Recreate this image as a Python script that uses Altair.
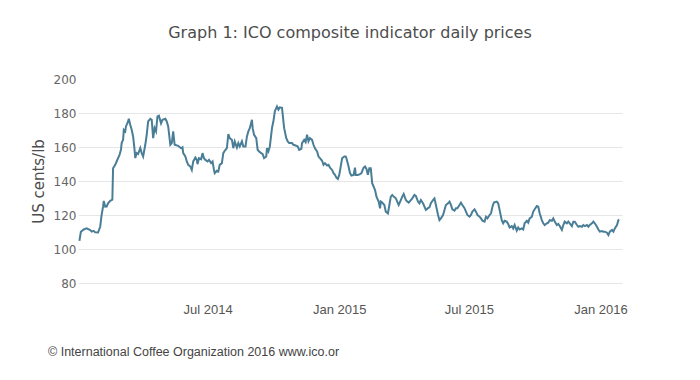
import altair as alt
import pandas as pd

# ---- data ----
series_start = "2014-01-01"  # day offsets below count from this date

day_offsets = [
    2, 4, 8, 12, 17, 19, 22, 24, 28, 31, 33, 35, 36, 38, 40, 42, 45, 48, 49, 52,
    55, 58, 60, 61, 63, 64, 66, 67, 70, 71, 73, 75, 77, 79, 80, 82, 84, 87, 89, 91,
    94, 96, 98, 101, 103, 105, 107, 109, 111, 113, 116, 118, 122, 124, 126, 129, 131, 133, 135,
    140, 144, 146, 147, 150, 152, 154, 157, 159, 161, 164, 166, 167, 169, 172, 174, 176, 178, 181, 183,
    186, 188, 190, 191, 194, 196, 198, 201, 203, 205, 208, 210, 212, 215, 217, 219, 222, 224, 226, 229,
    231, 234, 236, 238, 240, 243, 244, 246, 249, 251, 253, 256, 258, 260, 263, 264, 266, 268, 271, 273,
    275, 278, 280, 282, 285, 286, 288, 291, 293, 295, 299, 301, 304, 307, 309, 312, 313, 316, 318, 320,
    322, 324, 327, 329, 331, 334, 336, 338, 341, 343, 345, 348, 350, 352, 355, 357, 359, 361, 363, 365,
    367, 369, 372, 374, 375, 378, 380, 382, 385, 387, 388, 391, 394, 396, 399, 401, 403, 405, 407, 409, 411,
    415, 417, 420, 422, 423, 425, 428, 430, 433, 435, 437, 439, 441, 444, 446, 448, 451, 453, 455, 458,
    460, 462, 465, 467, 470, 472, 475, 477, 479, 482, 484, 486, 489, 491, 493, 496, 498, 500, 503, 505,
    507, 510, 512, 514, 517, 519, 521, 523, 526, 528, 530, 533, 535, 537, 540, 542, 544, 547, 549, 551,
    554, 556, 558, 561, 563, 565, 568, 570, 572, 575, 577, 579, 581,
    585, 587, 589, 592, 594, 596, 599, 601, 603, 606, 608, 610, 613, 615, 617, 620, 622, 624, 627, 629,
    631, 634, 636, 638, 641, 643, 645, 648, 650, 652, 655, 657, 659, 662, 664, 666, 669, 671, 673, 676,
    678, 680, 683, 685, 687, 690, 692, 694, 697, 699, 701, 704, 706, 708, 711, 713, 715, 718, 720, 722,
    725, 727, 729, 732, 734, 736, 739, 741, 743, 746, 748, 750, 753, 755, 756,
]

prices = [
    104.8, 110.1, 111.5, 112.1, 111.2, 110.2, 110.7, 109.8, 109.7, 113.1, 120.0, 124.9, 128.3, 124.9, 125.0, 126.9, 128.3, 129.0, 147.5, 149.5,
    152.5, 155.4, 158.4, 162.3, 164.3, 170.1, 169.2, 172.1, 175.0, 176.6, 173.1, 170.1, 166.2, 158.4, 153.5, 156.4, 155.9, 159.4, 156.4, 154.4,
    161.3, 167.2, 175.0, 176.6, 176.0, 165.2, 171.1, 169.2, 178.0, 178.4, 173.9, 176.0, 176.6, 175.0, 172.1, 161.3, 162.3, 169.2, 161.3,
    160.7, 159.3, 159.9, 156.4, 154.4, 151.5, 149.5, 148.5, 146.5, 151.5, 153.8, 152.4, 149.9, 153.4, 152.8, 156.4, 153.4, 152.4, 151.5, 152.4,
    150.5, 151.5, 146.5, 144.6, 146.0, 145.6, 149.5, 150.5, 156.4, 157.8, 159.3, 167.6, 165.2, 164.2, 159.3, 163.3, 159.7, 162.3, 160.3, 163.3,
    160.3, 160.3, 166.2, 169.2, 171.1, 176.0, 171.1, 167.2, 165.2, 158.4, 157.4, 156.4, 155.8, 153.4, 154.4, 159.3, 157.4, 160.3, 171.1, 175.1,
    181.0, 183.9, 182.0, 183.3, 183.0, 179.0, 171.1, 165.2, 163.3, 162.3, 162.3, 161.3, 160.9, 160.3, 158.3, 158.9, 162.3, 164.2, 162.9, 167.2,
    163.3, 165.2, 164.2, 161.3, 159.3, 157.4, 154.4, 153.4, 151.9, 149.5, 150.5, 149.1, 149.5, 147.9, 146.5, 144.6, 143.6, 142.0, 141.2, 143.6,
    148.5, 153.4, 154.4, 154.4, 153.4, 148.5, 144.6, 143.2, 143.6, 147.9, 143.6, 143.6, 144.0, 144.6, 147.9, 148.5, 147.1, 143.6, 147.5, 147.5, 138.7,
    134.7, 130.8, 127.9, 123.9, 127.9, 127.3, 125.9, 122.0, 121.0, 125.9, 130.8, 131.8, 130.8, 129.8, 127.9, 125.9, 128.8, 130.8, 132.4, 128.8,
    127.9, 127.3, 128.8, 129.8, 131.8, 131.2, 127.9, 126.9, 128.8, 126.9, 124.9, 123.0, 124.0, 124.5, 126.9, 128.8, 129.8, 125.9, 120.0, 117.0,
    118.0, 120.0, 123.0, 125.9, 126.9, 127.9, 125.9, 123.3, 122.6, 124.0, 124.0, 125.9, 127.3, 125.9, 124.0, 122.0, 120.0, 119.0, 120.0, 122.0,
    123.3, 122.0, 120.0, 119.0, 118.0, 116.7, 116.1, 119.0, 118.0, 120.0, 121.0, 124.9, 127.3,
    127.9, 126.9, 123.0, 117.0, 115.1, 116.6, 116.1, 114.7, 112.7, 113.5, 112.1, 114.1, 110.8, 112.7, 111.5, 112.1, 111.5, 115.1, 116.6, 115.5,
    118.0, 119.0, 122.0, 123.4, 125.3, 124.9, 121.0, 117.0, 115.1, 114.1, 115.1, 115.5, 117.0, 116.6, 118.0, 116.1, 114.1, 114.7, 113.5, 111.2,
    114.1, 116.1, 115.1, 116.1, 115.1, 113.5, 116.1, 116.1, 114.1, 113.1, 113.5, 113.1, 114.1, 113.5, 114.1, 113.1, 114.1, 115.1, 116.1, 115.1,
    113.1, 111.5, 110.2, 110.6, 110.2, 110.2, 109.6, 108.2, 110.2, 111.2, 110.2, 112.1, 114.1, 117.0, 117.4,
]

y_ticks = [80, 100, 120, 140, 160, 180, 200]
x_tick_months = [(2014, 7), (2015, 1), (2015, 7), (2016, 1)]
x_domain = [(2014, 1, 1), (2016, 1, 31)]

chart_title = "Graph 1: ICO composite indicator daily prices"
y_title = "US cents/lb"
credit_text = "© International Coffee Organization 2016 www.ico.org"

# ---- table ----
dates = pd.Timestamp(series_start) + pd.to_timedelta(day_offsets, unit="D")
df = pd.DataFrame({"date": dates, "price": prices})

line_color = "#4a7e97"
grid_color = "#e6e6e6"

x_enc = alt.X(
    "date:T",
    scale=alt.Scale(domain=[alt.DateTime(year=y, month=m, date=d) for (y, m, d) in x_domain]),
    axis=alt.Axis(
        values=[alt.DateTime(year=y, month=m, date=1) for (y, m) in x_tick_months],
        format="%b %Y",
        title=None,
        grid=False,
        domain=False,
        ticks=False,
        labelFont="Liberation Sans",
        labelFontSize=13,
        labelColor="#555555",
        labelPadding=20,
    ),
)

y_enc = alt.Y(
    "price:Q",
    scale=alt.Scale(domain=[y_ticks[0], y_ticks[-1]], nice=False, zero=False),
    axis=alt.Axis(
        values=y_ticks,
        title=y_title,
        grid=True,
        gridColor={"condition": {"test": "datum.value >= 200", "value": "transparent"}, "value": grid_color},
        gridWidth=1,
        domain=False,
        ticks=False,
        labelFont="DejaVu Sans",
        labelFontSize=12,
        labelColor="#666666",
        labelPadding=2,
        titleFont="DejaVu Sans",
        titleFontSize=15,
        titleFontWeight="normal",
        titleColor="#4d4d4d",
        titlePadding=7,
    ),
)

line = alt.Chart(df).mark_line(color=line_color, strokeWidth=2).encode(x=x_enc, y=y_enc)

credit = alt.Chart(pd.DataFrame({"label": [credit_text]})).mark_text(
    align="left",
    baseline="middle",
    font="Liberation Sans",
    fontSize=12.5,
    color="#444444",
    limit=297,
    ellipsis="\u200b",
).encode(text="label:N", x=alt.value(-30), y=alt.value(273))

chart = (
    alt.layer(line, credit)
    .properties(
        width=544,
        height=204,
        autosize=alt.AutoSizeParams(type="none"),
        padding={"left": 70, "top": 71, "right": 70, "bottom": 89},
        title=alt.TitleParams(
            text=chart_title,
            font="DejaVu Sans",
            fontSize=16,
            fontWeight="normal",
            color="#4d4d4d",
            anchor="middle",
            offset=32,
        ),
    )
    .configure_view(strokeWidth=0)
)

chart.save("out.html", embed_options={"renderer": "svg", "actions": False})
